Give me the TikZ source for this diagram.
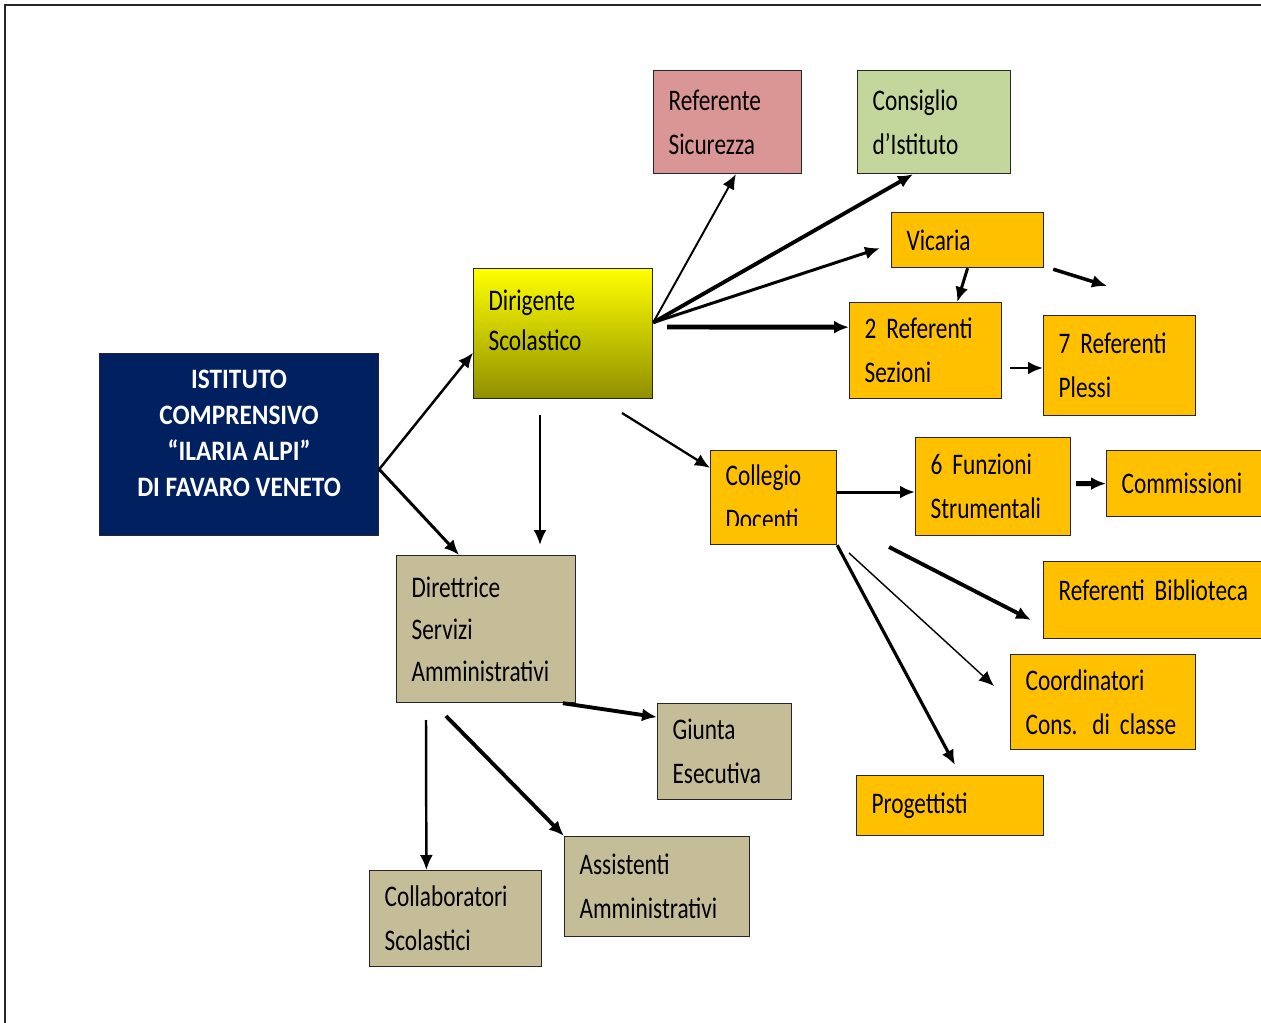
\documentclass[tikz,border=0pt]{standalone}
\usepackage{fontspec}
\setmainfont{Carlito}[FakeStretch=0.78]
\newfontfamily\istfont{Carlito}[FakeStretch=0.9]
\usetikzlibrary{arrows.meta,calc}

\definecolor{navy}{HTML}{002060}
\definecolor{arancio}{HTML}{FFC000}
\definecolor{sabbia}{HTML}{C4BD97}
\definecolor{rosa}{HTML}{D99694}
\definecolor{verde}{HTML}{C3D69B}
\definecolor{oliva}{HTML}{8F8F00}

\DeclareRobustCommand\boxfont[1]{\fontsize{17}{#1}\selectfont\spaceskip=0.17em plus 0.05em\relax}

\begin{document}
\begin{tikzpicture}[x=0.02cm,y=-0.02cm,
        box/.style={draw=black!85,line width=0.7pt,anchor=north west,inner xsep=0.3cm,
            align=left,font=\boxfont{25}},
        arr/.style={line width=#1,-{Latex[length=0.3cm,width=0.26cm]}},
        arr/.default=1.5pt]
    \clip (0,0) rectangle (1261,1023);
    \draw[line width=1.1pt,black!85] (5,1023) -- (5,5) -- (1261,5);

    \node[draw=black!85,line width=0.7pt,fill=navy,text=white,anchor=north west,
        minimum width=5.58cm,minimum height=3.64cm,align=center,
        font=\istfont\bfseries\fontsize{16}{20.4}\selectfont] (ist) at (99,353)
        {ISTITUTO\\COMPRENSIVO\\“ILARIA ALPI”\\DI FAVARO VENETO\rule[-0.45cm]{0pt}{0pt}};
    \node[box,top color=yellow,bottom color=oliva,minimum width=3.58cm,minimum height=2.6cm,
        text width=2.98cm,font=\boxfont{22.7}] (dir) at (473,268)
        {Dirigente\\Scolastico\rule[-0.52cm]{0pt}{0pt}};
    \node[box,fill=rosa,minimum width=2.96cm,minimum height=2.06cm,text width=2.36cm] (refsic) at (653,70) {Referente\\Sicurezza};
    \node[box,fill=verde,minimum width=3.06cm,minimum height=2.06cm,text width=2.46cm] (consiglio) at (857,70) {Consiglio\\d’Istituto};
    \node[box,fill=arancio,minimum width=3.04cm,minimum height=1.1cm,text width=2.44cm] (vicaria) at (891,212) {Vicaria};
    \node[box,fill=arancio,minimum width=3.04cm,minimum height=1.92cm,text width=2.44cm] (refsez) at (849,302) {2 Referenti\\Sezioni};
    \node[box,fill=arancio,minimum width=3.04cm,minimum height=2cm,text width=2.44cm] (refpl) at (1043,315) {7 Referenti\\Plessi};
    \node[box,fill=arancio,minimum width=2.52cm,minimum height=1.88cm,text width=1.92cm] (collegio) at (710,450) {Collegio\\Docenti};
    \fill[arancio] ($(collegio.south west)+(1,-19)$) rectangle ($(collegio.south east)+(-1,-1)$);
    \node[box,fill=arancio,minimum width=3.1cm,minimum height=1.96cm,text width=2.5cm] (funz) at (915,437) {6 Funzioni\\Strumentali};
    \node[box,fill=arancio,minimum width=3.4cm,minimum height=1.32cm,text width=2.8cm] (comm) at (1106,450) {Commissioni};
    \node[box,fill=arancio,minimum width=4.6cm,minimum height=1.54cm,text width=4cm] (bibl) at (1043,561) {Referenti Biblioteca\rule[-0.4cm]{0pt}{0pt}};
    \node[box,fill=arancio,minimum width=3.7cm,minimum height=1.9cm,text width=3.1cm] (coord) at (1010,654) {Coordinatori\\Cons. di classe};
    \node[box,fill=arancio,minimum width=3.74cm,minimum height=1.2cm,text width=3.14cm] (prog) at (856,775) {Progettisti};
    \node[box,fill=sabbia,minimum width=3.58cm,minimum height=2.94cm,text width=2.98cm,
        font=\boxfont{24}] (dsga) at (396,555) {Direttrice\\Servizi\\Amministrativi};
    \node[box,fill=sabbia,minimum width=2.68cm,minimum height=1.92cm,text width=2.08cm] (giunta) at (657,703) {Giunta\\Esecutiva};
    \node[box,fill=sabbia,minimum width=3.7cm,minimum height=2cm,text width=3.1cm] (assist) at (564,836) {Assistenti\\Amministrativi};
    \node[box,fill=sabbia,minimum width=3.44cm,minimum height=1.92cm,text width=2.84cm] (collab) at (369,870) {Collaboratori\\Scolastici};

    \coordinate (dirdown) at (540,415);
    \coordinate (dsgaup) at (540,545);
    \coordinate (dircol) at (622,413);
    \coordinate (dirref) at (667,327);
    \coordinate (vicfree) at (1107,286);
    \coordinate (refsezout) at (1010,368);
    \coordinate (biblstart) at (889,547);
    \coordinate (biblend) at (1031,620);
    \coordinate (coordstart) at (849,553);
    \coordinate (coordend) at (994,686);
    \coordinate (progend) at (955,765);
    \coordinate (collabstart) at (426,720);
    \coordinate (assiststart) at (446,716);

    \draw[arr=1.4pt] (ist.-10) -- (dir.192);
    \draw[arr=1.7pt] (ist.-10) -- (dsga.110);
    \draw[arr=1.4pt] (dirdown) -- (dsgaup);
    \draw[arr=1.3pt] (dircol) -- (collegio.155);
    \draw[arr=1.1pt] (dir.7) -- (refsic.-81);
    \draw[arr=2.2pt] (dir.7) -- (consiglio.-112);
    \draw[arr=1.7pt] (dir.7) -- ($(vicaria.west)+(-11,8)$);
    \draw[arr=2.8pt] (dirref) -- (refsez.163);
    \draw[arr=1.7pt] (vicaria.south) -- (refsez.57);
    \draw[arr=2pt] ($(vicaria.south east)+(9,1)$) -- (vicfree);
    \draw[arr=1.7pt] (refsezout) -- (refpl.west |- refsezout);
    \draw[arr=1.7pt] (collegio.5) -- (collegio.5 -| funz.west);
    \draw[arr=2.8pt] ($(funz.east)+(5,-3)$) -- (comm.west);
    \draw[arr=2.2pt] (biblstart) -- (biblend);
    \draw[arr=0.8pt] (coordstart) -- (coordend);
    \draw[arr=1.8pt] (collegio.south east) -- (progend);
    \draw[arr=2.2pt] (dsga.-44) -- (giunta.153);
    \draw[arr=1.4pt] (collabstart) -- (collab.121);
    \draw[arr=2.2pt] (assiststart) -- (assist.north west);
\end{tikzpicture}
\end{document}
